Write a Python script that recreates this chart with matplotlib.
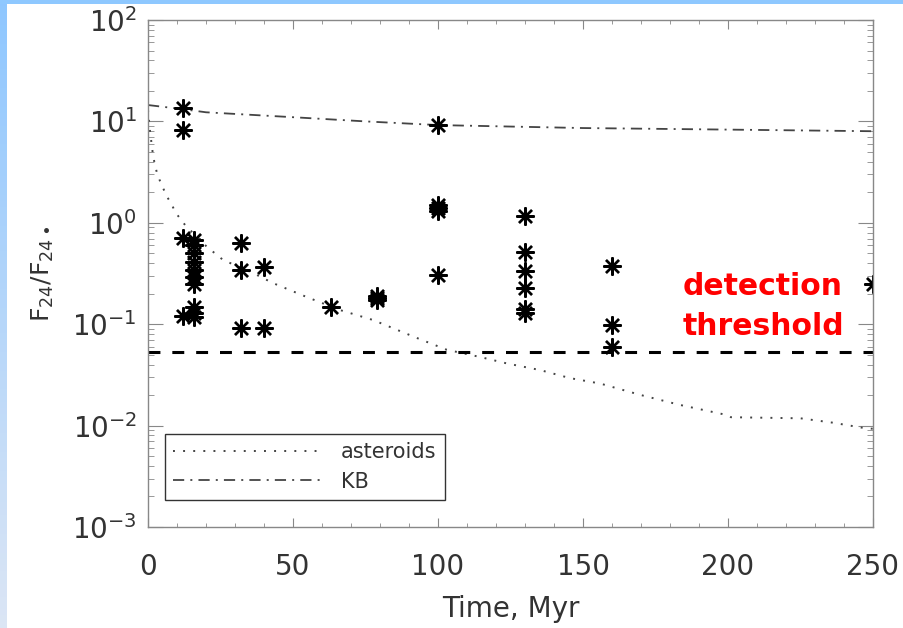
import numpy as np
import matplotlib.pyplot as plt
from matplotlib.patches import Rectangle
from matplotlib.ticker import MultipleLocator, LogLocator, LogFormatterMathtext, NullFormatter

# detected 24 micron excesses: age (Myr) and F24/F24*
star_age = [12, 12, 12, 12,
            16, 16, 16, 16, 16, 16, 16, 16, 16, 16,
            32, 32, 32, 40, 40, 63, 79, 79, 79,
            100, 100, 100, 100, 100,
            130, 130, 130, 130, 130, 130,
            160, 160, 160, 250]
star_excess = [13.5, 8.2, 0.71, 0.12,
               0.68, 0.60, 0.50, 0.41, 0.34, 0.29, 0.25, 0.148, 0.129, 0.118,
               0.63, 0.34, 0.091, 0.37, 0.091, 0.148, 0.18, 0.19, 0.175,
               9.2, 1.5, 1.4, 1.3, 0.305,
               1.17, 0.515, 0.335, 0.228, 0.14, 0.13,
               0.375, 0.098, 0.06, 0.249]

# model curves
ast_time = [0, 0.7, 1.7, 2.4, 3.1, 4.1, 5.2, 6.6, 8.3, 9.3, 11, 12.8, 20.3, 25.9,
            36.2, 43, 54.8, 66.2, 77.6, 92.8, 103, 114.5, 123.8, 135.2, 145.5,
            155.9, 170, 183.4, 199.7, 201, 225, 236, 246.6, 250]
ast_flux = [13, 8, 4.7, 3.7, 3.1, 2.6, 2.2, 1.8, 1.5, 1.28, 1.11, 0.95, 0.58, 0.43,
            0.32, 0.255, 0.185, 0.138, 0.11, 0.073, 0.056, 0.0475, 0.041, 0.0353, 0.0294,
            0.026, 0.020, 0.016, 0.0127, 0.0121, 0.0118, 0.0107, 0.0095, 0.0093]

kb_time = [0, 12, 20, 50, 75, 100, 150, 200, 250]
kb_flux = [14.5, 13.2, 12.3, 11, 10, 9.2, 8.6, 8.3, 8.0]

threshold = 0.053

W, H = 904, 628
fig = plt.figure(figsize=(W / 100, H / 100), dpi=100)

# blue slide border
grad = fig.add_axes([0, 0, 7 / W, 1])
cols = np.linspace([0.56, 0.78, 1.0], [0.86, 0.90, 0.96], 100)[:, None, :]
grad.imshow(cols, aspect='auto')
grad.axis('off')
fig.add_artist(Rectangle((0, 1 - 4 / H), 1, 4 / H, transform=fig.transFigure,
                         color='#8ec8ff', lw=0))

ax = fig.add_axes([148 / W, 101 / H, 725 / W, 507 / H])

ax.plot(ast_time, ast_flux, color='#444444', lw=1.4, ls=(0, (1, 4.2)), label='asteroids')
ax.plot(kb_time, kb_flux, color='#444444', lw=1.3, ls=(0, (6.2, 3.4, 1.1, 3.4)), label='KB')
ax.axhline(threshold, color='black', lw=2.2, ls=(0, (3.9, 3.9)))
ax.plot(star_age, star_excess, ls='none', marker=(8, 2, 0), ms=13, mew=1.7,
        color='black')

ax.set_yscale('log')
ax.set_xlim(0, 250)
ax.set_ylim(1e-3, 1e2)

ax.xaxis.set_major_locator(MultipleLocator(50))
ax.xaxis.set_minor_locator(MultipleLocator(10))
ax.yaxis.set_major_locator(LogLocator(base=10))
ax.yaxis.set_major_formatter(LogFormatterMathtext())
ax.yaxis.set_minor_locator(LogLocator(base=10, subs=np.arange(2, 10)))
ax.yaxis.set_minor_formatter(NullFormatter())

txt = '#333333'
for s in ax.spines.values():
    s.set_color('#888888')
    s.set_linewidth(1.0)
ax.tick_params(which='both', direction='in', top=True, right=True, colors='#888888',
               labelcolor=txt, labelsize=20)
ax.tick_params(axis='x', which='major', length=6.5, pad=19)
ax.tick_params(axis='x', which='minor', length=3)
ax.tick_params(axis='y', which='major', length=11, pad=8)
ax.tick_params(axis='y', which='minor', length=4)

ax.set_xlabel('Time, Myr', fontsize=20, color=txt, labelpad=10)
ax.set_ylabel(r'F$_{24}$/F$_{24\bullet}$', fontsize=18, color=txt, labelpad=12)

leg = ax.legend(loc='lower left', bbox_to_anchor=(0.0234, 0.0533), borderaxespad=0,
                fontsize=15, handlelength=7.2, handletextpad=0.85, labelspacing=0.45,
                borderpad=0.4, fancybox=False, edgecolor='#333333', framealpha=1)
leg.get_frame().set_linewidth(1.0)
for t in leg.get_texts():
    t.set_color(txt)

ax.text(0.738, 0.4576, 'detection', transform=ax.transAxes, color='red',
        fontsize=21.5, fontweight='bold', va='baseline', ha='left')
ax.text(0.738, 0.3787, 'threshold', transform=ax.transAxes, color='red',
        fontsize=21.5, fontweight='bold', va='baseline', ha='left')

fig.savefig('out.png', dpi=100)
